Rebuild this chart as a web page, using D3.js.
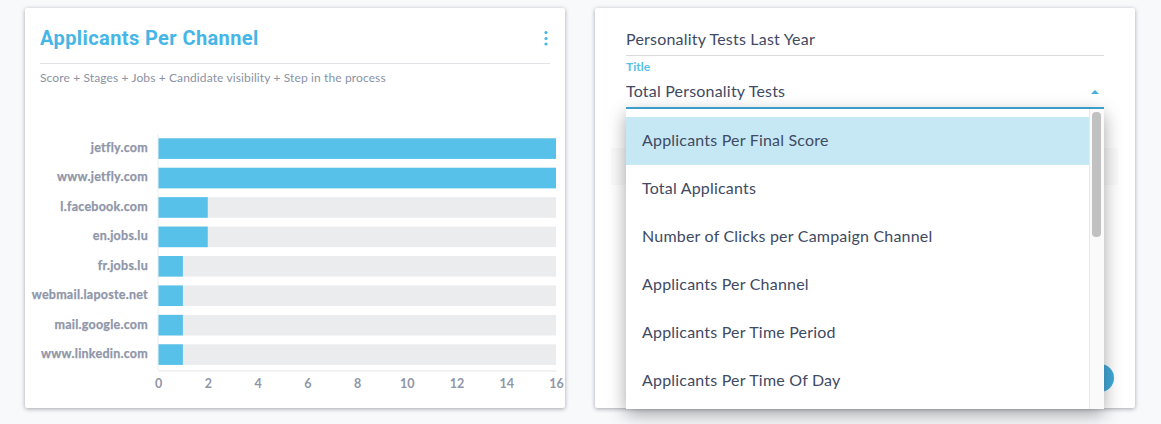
<!DOCTYPE html>
<html>
<head>
<meta charset="utf-8">
<script src="https://cdn.jsdelivr.net/npm/d3@7"></script>
<style>
  html, body { margin: 0; padding: 0; background: #f8f9fb; overflow: hidden; }
  text { font-family: "Lato", sans-serif; }
  .card { fill: #fff; filter: drop-shadow(0 1px 2px rgba(60,60,70,.45)); }
  .menu { fill: #fff; filter: drop-shadow(0 5px 9px rgba(40,40,50,.42)); }
  .label { font-weight: 700; font-size: 12.5px; fill: #8f96a9; stroke: #8f96a9; stroke-width: .25px; letter-spacing: .25px; }
  .option { font-size: 16px; fill: #3f4a63; letter-spacing: .2px; }
  .x-axis text { font-weight: 700; font-size: 12.5px; fill: #8f96a9; font-family: "Lato", sans-serif; }
</style>
</head>
<body>
<div id="chart"></div>
<script>
// Chart values
var channels = ["jetfly.com", "www.jetfly.com", "l.facebook.com", "en.jobs.lu",
    "fr.jobs.lu", "webmail.laposte.net", "mail.google.com", "www.linkedin.com"];
var applicants = [16, 16, 2, 2, 1, 1, 1, 1];
var xTicks = [0, 2, 4, 6, 8, 10, 12, 14, 16];
var menuOptions = ["Applicants Per Final Score", "Total Applicants",
    "Number of Clicks per Campaign Channel", "Applicants Per Channel",
    "Applicants Per Time Period", "Applicants Per Time Of Day"];

var blue = "#57c1ea";

var svg = d3.select("#chart")
    .append("svg")
    .attr("width", 1161)
    .attr("height", 424)
    .style("display", "block");

// Left card
svg.append("rect").attr("class", "card")
    .attr("x", 25).attr("y", 8).attr("width", 540).attr("height", 400).attr("rx", 2);

svg.append("text")
    .attr("x", 40).attr("y", 45)
    .style("font-family", "Roboto").style("font-weight", 700)
    .style("font-size", "20px").style("letter-spacing", ".4px")
    .attr("fill", "#45b6e6")
    .text("Applicants Per Channel");

// Menu dots
svg.selectAll(".dot")
    .data([32.5, 38.5, 44])
    .enter()
    .append("circle")
    .attr("cx", 546).attr("cy", function (d) { return d; })
    .attr("r", 1.6).attr("fill", "#45b6e6");

svg.append("line")
    .attr("x1", 40).attr("x2", 550).attr("y1", 63.5).attr("y2", 63.5)
    .attr("stroke", "#e2e3e6");

svg.append("text")
    .attr("x", 40).attr("y", 82)
    .style("font-size", "12px").style("letter-spacing", ".12px")
    .attr("fill", "#8b92a3")
    .text("Score + Stages + Jobs + Candidate visibility + Step in the process");

// Scales
var x = d3.scaleLinear().domain([0, 16]).range([158, 556]);
var y = d3.scaleBand().domain(channels).range([133.9, 369.3]).paddingInner(0.3).paddingOuter(0.15);

// Background bars
svg.selectAll(".bar-bg")
    .data(channels)
    .enter()
    .append("rect")
    .attr("class", "bar-bg")
    .attr("x", x(0))
    .attr("y", function (d) { return y(d); })
    .attr("width", x(16) - x(0))
    .attr("height", y.bandwidth())
    .attr("fill", "#ebecee");

// Value bars
svg.selectAll(".bar")
    .data(applicants)
    .enter()
    .append("rect")
    .attr("class", "bar")
    .attr("x", x(0))
    .attr("y", function (d, i) { return y(channels[i]); })
    .attr("width", function (d) { return x(d) - x(0); })
    .attr("height", y.bandwidth())
    .attr("fill", blue);

// Channel labels
svg.selectAll(".label")
    .data(channels)
    .enter()
    .append("text")
    .attr("class", "label")
    .attr("x", 148)
    .attr("y", function (d) { return y(d) + y.bandwidth() / 2 - 0.4; })
    .attr("dy", ".3em")
    .attr("text-anchor", "end")
    .text(function (d) { return d; });

// Axes
svg.append("line")
    .attr("x1", 158).attr("x2", 158).attr("y1", 134).attr("y2", 370)
    .attr("stroke", "#eceded");

var xAxis = svg.append("g")
    .attr("class", "x-axis")
    .attr("transform", "translate(0,370.5)")
    .call(d3.axisBottom(x).tickValues(xTicks).tickSize(0).tickPadding(9));
xAxis.select(".domain").attr("stroke", "#e4e5e8");

// Right card
svg.append("rect").attr("class", "card")
    .attr("x", 595).attr("y", 8).attr("width", 540).attr("height", 400).attr("rx", 2);

svg.append("text").attr("class", "option")
    .attr("x", 626).attr("y", 45)
    .text("Personality Tests Last Year");

svg.append("line")
    .attr("x1", 626).attr("x2", 1104).attr("y1", 55.5).attr("y2", 55.5)
    .attr("stroke", "#d9dadc");

svg.append("text")
    .attr("x", 626).attr("y", 71)
    .style("font-size", "12px").style("font-weight", 700)
    .attr("fill", "#57c1ea")
    .text("Title");

svg.append("text").attr("class", "option")
    .attr("x", 626).attr("y", 97)
    .text("Total Personality Tests");

svg.append("path")
    .attr("d", d3.line()([[1091, 94], [1095, 90], [1099, 94]]) + "Z")
    .attr("fill", "#45aedb");

svg.append("rect")
    .attr("x", 626).attr("y", 107).attr("width", 478).attr("height", 2)
    .attr("fill", "#3fa9d9");

// Things hidden behind the open dropdown
svg.append("rect")
    .attr("x", 611).attr("y", 148).attr("width", 507).attr("height", 37)
    .attr("fill", "#fafafa");

svg.append("circle")
    .attr("cx", 1100).attr("cy", 378).attr("r", 14)
    .attr("fill", "#3fa9d9");

// Dropdown
svg.append("rect").attr("class", "menu")
    .attr("x", 626).attr("y", 109).attr("width", 478).attr("height", 300);

var rows = d3.scaleBand().domain(menuOptions).range([117, 405]);

svg.append("rect")
    .attr("x", 626).attr("y", rows(menuOptions[0]))
    .attr("width", 463).attr("height", rows.bandwidth())
    .attr("fill", "#c6e8f5");

svg.selectAll(".menu-item")
    .data(menuOptions)
    .enter()
    .append("text")
    .attr("class", "option menu-item")
    .attr("x", 642)
    .attr("y", function (d) { return rows(d) + rows.bandwidth() / 2 - 1; })
    .attr("dy", ".35em")
    .text(function (d) { return d; });

// Scrollbar
svg.append("rect")
    .attr("x", 1089).attr("y", 109).attr("width", 15).attr("height", 300)
    .attr("fill", "#fafafa");
svg.append("line")
    .attr("x1", 1089.5).attr("x2", 1089.5).attr("y1", 109).attr("y2", 409)
    .attr("stroke", "#e8e8e8");
svg.append("rect")
    .attr("x", 1092).attr("y", 112).attr("width", 9).attr("height", 125).attr("rx", 4)
    .attr("fill", "#c1c1c1");
</script>
</body>
</html>
